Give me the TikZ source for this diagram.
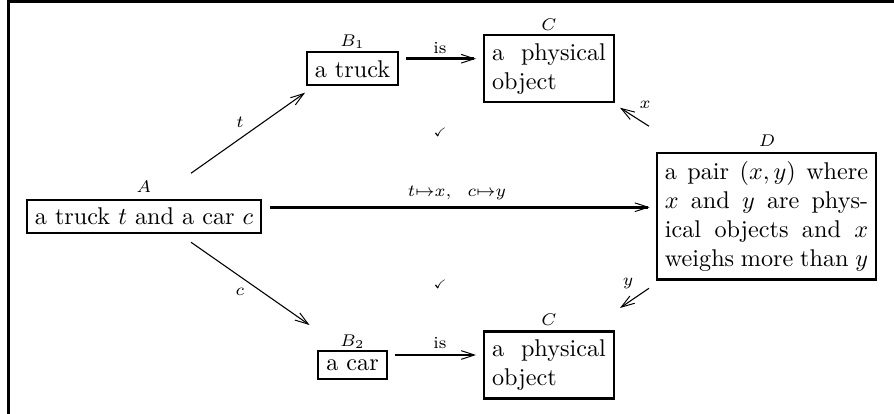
\documentclass[tikz,border=0pt]{standalone}
\usepackage{amssymb}
\usetikzlibrary{arrows.meta}
\begin{document}
\begin{tikzpicture}[x=0.4132pt, y=-0.4132pt,
  box/.style={draw, line width=0.9pt, inner sep=3.33pt},
  lab/.style={font=\scriptsize, inner sep=0pt},
  chk/.style={font=\tiny, inner sep=0pt},
  tipstyle/.style={-{Straight Barb[length=5.5pt,width=3.6pt,line width=0.4pt]}},
  thickarrow/.style={line width=1.1pt, tipstyle},
  thinarrow/.style={line width=0.45pt, tipstyle},
  framestyle/.style={line width=1.1pt}]
\useasboundingbox (0,0) rectangle (894,414);
\clip (0,0) rectangle (894,414);
\draw[framestyle] (8.5,430) -- (8.5,1.2) -- (900,1.2);

% boxes
\node[box] (A) at (144,216.25) {a truck $t$ and a car $c$};
\node[box] (B1) at (352.5,68.75) {a truck};
\node[box, text width=47pt, align=justify] (C1) at (549,68.75) {a physical\linebreak object};
\node[box] (B2) at (352.5,365) {a car};
\node[box, text width=47pt, align=justify] (C2) at (549,365) {a physical\linebreak object};
\node[box, text width=84pt, align=justify] (D) at (766.5,216.25)
  {\parfillskip=0pt a pair $(x,y)$ where\linebreak $x$ and $y$ are phys-\linebreak ical objects and $x$\linebreak weighs more than $y$};

% object labels
\node[lab] (Al) at (144,187) {$A$};
\node[lab] (B1l) at (352.5,42) {$B_1$};
\node[lab] (C1l) at (549,25) {$C$};
\node[lab] (B2l) at (352.5,341.5) {$B_2$};
\node[lab] (C2l) at (549,320) {$C$};
\node[lab] (Dl) at (767,141) {$D$};

% connectors
\draw[thickarrow] ([shift={(7,-10)}]B1.east) -- ([shift={(-7,-10)}]C1.west);
\draw[thickarrow] ([shift={(7,-10)}]B2.east) -- ([shift={(-7,-10)}]C2.west);
\draw[thickarrow] ([shift={(8,-9)}]A.east) -- ([shift={(-6,-9)}]D.west);
\draw[thinarrow] ([shift={(47,-43)}]A.center) -- ([shift={(-47.5,24)}]B1.center);
\draw[thinarrow] ([shift={(47,26)}]A.center) -- ([shift={(-43,-40)}]B2.center);
\draw[thinarrow] ([shift={(-117.5,-90)}]D.center) -- ([shift={(71,39)}]C1.center);
\draw[thinarrow] ([shift={(-117.5,72)}]D.center) -- ([shift={(71,-57)}]C2.center);

% connector labels
\node[lab] (is1) at (440,48) {is};
\node[lab] (is2) at (440,343) {is};
\node[lab] (lt) at (240,122) {$t$};
\node[lab] (lc) at (240,292) {$c$};
\node[lab] (lx) at (645,105) {$x$};
\node[lab] (ly) at (628,283) {$y$};
\node[lab] (lmap) at (457,193) {$t{\mapsto}x,\ \ c{\mapsto}y$};

% commutativity marks
\node[chk] (ck1) at (440,132) {$\checkmark$};
\node[chk] (ck2) at (440,284) {$\checkmark$};
\end{tikzpicture}
\end{document}
